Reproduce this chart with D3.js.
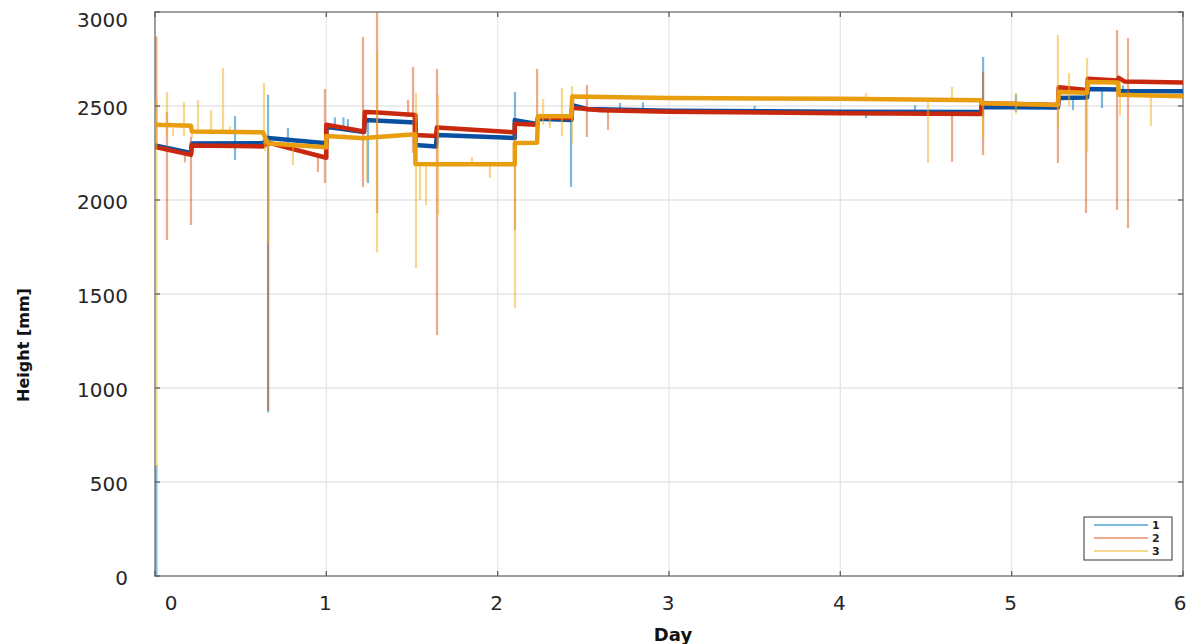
<!DOCTYPE html>
<html><head><meta charset="utf-8">
<script src="https://cdn.jsdelivr.net/npm/d3@7/dist/d3.min.js"></script>
<style>body{margin:0;background:#fff;} svg{display:block}</style>
</head><body>
<svg id="c" width="1191" height="644"></svg>
<script>
// ---------- data ----------
const xTicks = [0, 1, 2, 3, 4, 5, 6];
const yTicks = [0, 500, 1000, 1500, 2000, 2500, 3000];
const seriesNames = ["1", "2", "3"];
const xLabel = "Day";
const yLabel = "Height [mm]";

// main traces [day, height]
const trace1 = [[0,2290],[0.21,2250],[0.215,2300],[0.63,2302],[0.66,2330],[1.0,2302],[1.0,2390],[1.22,2362],[1.225,2425],[1.52,2412],[1.52,2292],[1.64,2285],[1.645,2346],[2.1,2330],[2.1,2425],[2.23,2405],[2.235,2432],[2.43,2425],[2.435,2505],[2.52,2484],[3.0,2475],[4.0,2470],[4.82,2468],[4.825,2495],[5.27,2492],[5.275,2543],[5.44,2545],[5.445,2590],[5.62,2588],[5.625,2580],[6.0,2578]];
const trace2 = [[0,2282],[0.21,2240],[0.215,2290],[0.63,2285],[0.66,2305],[1.0,2225],[1.0,2400],[1.22,2365],[1.225,2468],[1.3,2465],[1.52,2452],[1.52,2346],[1.64,2340],[1.645,2385],[2.1,2360],[2.1,2405],[2.23,2400],[2.235,2440],[2.43,2435],[2.435,2490],[2.6,2478],[3.0,2470],[4.0,2462],[4.82,2458],[4.825,2515],[5.27,2505],[5.275,2600],[5.44,2585],[5.445,2645],[5.62,2635],[5.625,2650],[5.66,2630],[6.0,2625]];
const trace3 = [[0,2400],[0.21,2395],[0.215,2365],[0.63,2360],[0.66,2300],[1.0,2280],[1.0,2340],[1.22,2328],[1.225,2330],[1.3,2335],[1.52,2350],[1.52,2192],[1.64,2190],[2.1,2190],[2.1,2303],[2.23,2305],[2.235,2445],[2.43,2445],[2.435,2550],[3.0,2543],[4.0,2538],[4.82,2530],[4.825,2515],[5.27,2505],[5.275,2575],[5.44,2570],[5.445,2628],[5.62,2625],[5.625,2560],[6.0,2552]];

// spikes [day, low, high]
const spikes1 = [[0.008,0,590],[0.467,2213,2447],[0.66,870,2560],[0.776,2290,2383],[1.05,2380,2440],[1.1,2370,2440],[1.126,2370,2430],[1.243,2090,2420],[2.101,2330,2575],[2.428,2069,2420],[2.714,2470,2516],[2.848,2470,2520],[3.5,2465,2500],[4.15,2436,2475],[4.436,2460,2505],[4.833,2440,2761],[5.025,2470,2560],[5.358,2479,2545],[5.527,2489,2590],[5.65,2570,2610]];
const spikes2 = [[0.008,2280,2870],[0.07,1787,2468],[0.175,2200,2260],[0.21,1867,2335],[0.66,880,2300],[0.951,2149,2250],[0.992,2090,2590],[1.214,2069,2867],[1.296,1931,3000],[1.477,2440,2532],[1.506,2250,2707],[1.646,1282,2697],[2.101,1840,2380],[2.23,2400,2697],[2.521,2335,2612],[2.644,2372,2480],[4.652,2202,2460],[4.833,2239,2680],[5.27,2197,2600],[5.434,1931,2600],[5.615,1947,2904],[5.679,1851,2862]];
const spikes3 = [[0.008,580,2540],[0.07,2340,2575],[0.105,2340,2380],[0.169,2340,2521],[0.216,2330,2380],[0.251,2360,2532],[0.327,2360,2479],[0.397,2360,2702],[0.438,2360,2390],[0.636,2300,2622],[0.642,2260,2360],[0.66,1771,2300],[0.805,2186,2290],[1.237,2100,2330],[1.296,1720,2787],[1.523,1638,2570],[1.547,2000,2200],[1.582,1973,2200],[1.652,1920,2559],[1.85,2190,2229],[1.955,2117,2190],[2.101,1425,2300],[2.265,2400,2537],[2.305,2383,2440],[2.375,2340,2596],[2.434,2300,2606],[4.15,2530,2569],[4.512,2197,2530],[4.652,2530,2601],[4.833,2330,2530],[5.025,2460,2570],[5.27,2390,2878],[5.335,2500,2676],[5.44,2255,2755],[5.632,2450,2630],[5.813,2394,2560]];

const traces = [trace1, trace2, trace3];
const spikes = [spikes1, spikes2, spikes3];
const traceColors = ["#0a50a2", "#c8280e", "#e99e10"];
const spikeColors = ["#0072BD", "#D95319", "#EDB120"];

// ---------- chart ----------
const svg = d3.select("#c");
const L = 155, R = 1183, T = 12, B = 576;
const x = d3.scaleLinear().domain([0, 6]).range([L, R]);
const y = d3.scaleLinear().domain([0, 3000]).range([B, T]);
const font = "DejaVu Sans, Verdana, sans-serif";

// grid
const g = svg.append("g");
g.selectAll(".gx").data(xTicks.slice(1, -1)).enter().append("line")
  .attr("x1", d => x(d)).attr("x2", d => x(d)).attr("y1", T).attr("y2", B)
  .attr("stroke", "#e6e6e6").attr("stroke-width", 1.3);
g.selectAll(".gy").data(yTicks.slice(1, -1)).enter().append("line")
  .attr("y1", d => y(d)).attr("y2", d => y(d)).attr("x1", L).attr("x2", R)
  .attr("stroke", "#e6e6e6").attr("stroke-width", 1.3);

// axes box (drawn under data so edge traces stay visible)
svg.append("rect").attr("x", L).attr("y", T).attr("width", R - L).attr("height", B - T)
  .attr("fill", "none").attr("stroke", "#808080").attr("stroke-width", 1.5);

// clip
svg.append("clipPath").attr("id", "clip").append("rect")
  .attr("x", L).attr("y", T).attr("width", R - L).attr("height", B - T);
const plot = svg.append("g").attr("clip-path", "url(#clip)");

const line = d3.line().x(d => x(d[0])).y(d => y(d[1]));

for (let i = 0; i < 3; i++) {
  const sg = plot.append("g");
  sg.selectAll("line").data(spikes[i]).enter().append("line")
    .attr("x1", d => x(d[0])).attr("x2", d => x(d[0]))
    .attr("y1", d => y(d[1])).attr("y2", d => y(d[2]))
    .attr("stroke", spikeColors[i]).attr("stroke-opacity", 0.5).attr("stroke-width", 2.2);
  plot.append("path").datum(traces[i]).attr("d", line)
    .attr("fill", "none").attr("stroke", traceColors[i]).attr("stroke-width", 4.5)
    .attr("stroke-linejoin", "round");
}

// ticks (inward, bottom/top/left/right)
const tk = svg.append("g").attr("stroke", "#606060").attr("stroke-width", 1.3);
xTicks.forEach(d => {
  tk.append("line").attr("x1", x(d)).attr("x2", x(d)).attr("y1", B).attr("y2", B - 5);
  tk.append("line").attr("x1", x(d)).attr("x2", x(d)).attr("y1", T).attr("y2", T + 5);
});
yTicks.forEach(d => {
  tk.append("line").attr("y1", y(d)).attr("y2", y(d)).attr("x1", L).attr("x2", L + 5);
  tk.append("line").attr("y1", y(d)).attr("y2", y(d)).attr("x1", R).attr("x2", R - 5);
});

// tick labels
const xdx = {0: 16, 6: -3};
svg.append("g").selectAll("text").data(xTicks).enter().append("text")
  .attr("x", d => x(d) + (xdx[d] || -1)).attr("y", 610)
  .attr("text-anchor", "middle").attr("font-family", font).attr("font-size", 20)
  .attr("fill", "#262626").text(d => d);
svg.append("g").selectAll("text").data(yTicks).enter().append("text")
  .attr("x", 128).attr("y", d => d === 3000 ? y(d) + 15 : y(d) + 9)
  .attr("text-anchor", "end").attr("font-family", font).attr("font-size", 20)
  .attr("fill", "#262626").text(d => d);

// axis labels
svg.append("text").attr("x", 673).attr("y", 641).attr("text-anchor", "middle")
  .attr("font-family", font).attr("font-weight", "bold").attr("font-size", 18)
  .attr("fill", "#111").text(xLabel);
svg.append("text").attr("transform", "translate(29,345) rotate(-90)")
  .attr("text-anchor", "middle").attr("font-family", font).attr("font-weight", "bold")
  .attr("font-size", 16).attr("fill", "#111").text(yLabel);

// legend
const lg = svg.append("g");
lg.append("rect").attr("x", 1084).attr("y", 517).attr("width", 88).attr("height", 43)
  .attr("fill", "#fff").attr("stroke", "#555").attr("stroke-width", 1.2);
seriesNames.forEach((n, i) => {
  const yy = 525 + i * 13;
  lg.append("line").attr("x1", 1094).attr("x2", 1148).attr("y1", yy).attr("y2", yy)
    .attr("stroke", spikeColors[i]).attr("stroke-opacity", 0.5).attr("stroke-width", 2);
  lg.append("text").attr("x", 1152).attr("y", yy + 4).attr("font-family", font)
    .attr("font-weight", "bold").attr("font-size", 11).attr("fill", "#222").text(n);
});
</script>
</body></html>
